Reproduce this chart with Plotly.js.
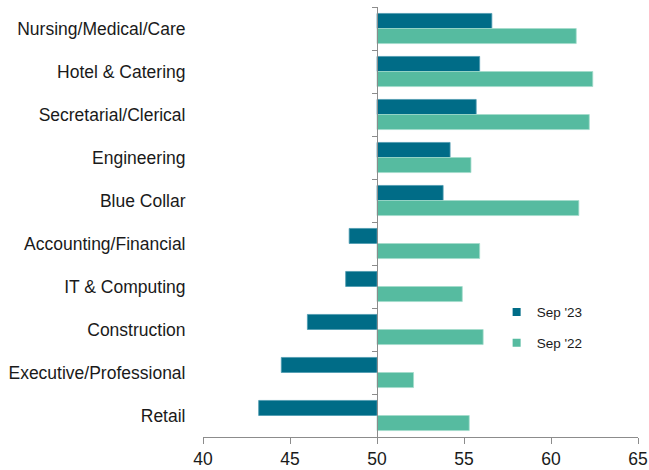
<!DOCTYPE html>
<html>
<head>
<meta charset="utf-8">
<script src="https://cdn.plot.ly/plotly-3.0.1.min.js"></script>
<style>html,body{margin:0;padding:0;background:#fff;}#chart{width:649px;height:470px;}</style>
</head>
<body>
<div id="chart"></div>
<script>
const categories = ["Nursing/Medical/Care","Hotel & Catering","Secretarial/Clerical","Engineering","Blue Collar","Accounting/Financial","IT & Computing","Construction","Executive/Professional","Retail"];
const sep23 = [56.6, 55.9, 55.7, 54.2, 53.8, 48.4, 48.2, 46.0, 44.5, 43.2];
const sep22 = [61.45, 62.4, 62.2, 55.4, 61.6, 55.9, 54.9, 56.1, 52.1, 55.3];
const seriesNames = ["Sep '23", "Sep '22"];
const tickVals = [40, 45, 50, 55, 60, 65];
const baseValue = 50;

const c23 = '#006C87', c22 = '#56BBA0';
const font = 'Liberation Sans, Arial, sans-serif';

const traces = [
  {type:'bar', orientation:'h', y:categories, x:sep23.map(v=>v-baseValue), base:baseValue,
   marker:{color:c23, line:{color:'#4d9bb0', width:0.8}}, showlegend:false, hoverinfo:'skip'},
  {type:'bar', orientation:'h', y:categories, x:sep22.map(v=>v-baseValue), base:baseValue,
   marker:{color:c22, line:{color:'#a3dccb', width:0.8}}, showlegend:false, hoverinfo:'skip'},
  {type:'scatter', mode:'markers', name:seriesNames[0], x:categories.map(()=>null), y:categories, yaxis:'y2',
   marker:{symbol:'square', size:8, color:c23}, legendgroup:'a'},
  {type:'scatter', mode:'markers', name:seriesNames[1], x:categories.map(()=>null), y:categories, yaxis:'y2',
   marker:{symbol:'square', size:8, color:c22}, legendgroup:'b'}
];

const layout = {
  width:649, height:470,
  margin:{l:203, r:11, t:7, b:33},
  paper_bgcolor:'#fff', plot_bgcolor:'#fff',
  font:{family:font, size:17.5, color:'#1a1a1a'},
  barmode:'group', bargap:0.3, bargroupgap:0,
  xaxis:{range:[40,65], tickvals:tickVals, showgrid:false, zeroline:false,
    showline:true, linecolor:'#8c8c8c', linewidth:1, ticks:'outside', ticklen:6, tickcolor:'#8c8c8c',
    tickfont:{size:17.5}, fixedrange:true},
  yaxis:{type:'category', categoryorder:'array', categoryarray:categories, range:[9.5,-0.5],
    anchor:'free', position:(50-40)/25, showline:true, linecolor:'#8c8c8c', linewidth:1,
    ticks:'outside', ticklen:5, tickcolor:'#8c8c8c', tickson:'boundaries', showticklabels:false,
    showgrid:false, zeroline:false},
  yaxis2:{type:'category', categoryorder:'array', categoryarray:categories, range:[9.5,-0.5],
    overlaying:'y', anchor:'free', position:0, side:'left', showline:false, showgrid:false, zeroline:false,
    ticks:'outside', ticklen:14, tickcolor:'rgba(0,0,0,0)', tickfont:{size:17.5}},
  showlegend:true,
  legend:{x:0.675, y:0.326, xanchor:'left', yanchor:'top', traceorder:'grouped', tracegroupgap:10,
    font:{size:13.5}, bgcolor:'rgba(0,0,0,0)'}
};

Plotly.newPlot('chart', traces, layout, {staticPlot:true, displayModeBar:false});
</script>
</body>
</html>
